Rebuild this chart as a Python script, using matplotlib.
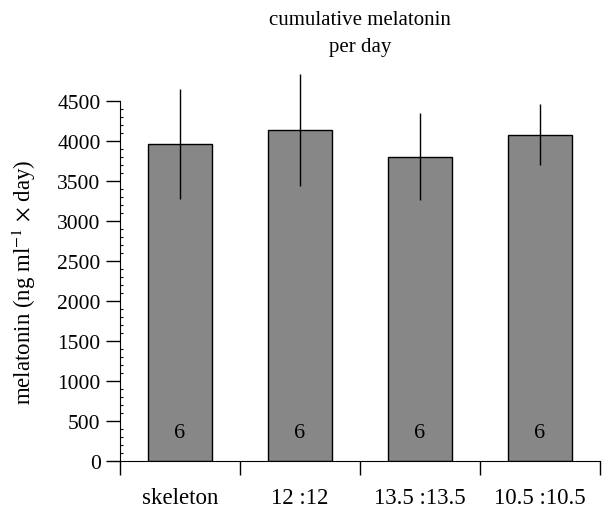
"""Cumulative melatonin per day by photoperiod group."""

import matplotlib.pyplot as plt
from matplotlib.ticker import MultipleLocator, FixedLocator, NullFormatter

plt.rcParams["font.family"] = ["Liberation Serif", "DejaVu Serif"]
plt.rcParams["mathtext.fontset"] = "stix"

GROUPS = ["skeleton", "12 :12", "13.5 :13.5", "10.5 :10.5"]
MEANS = [3966, 4133, 3804, 4079]
ERRORS = [690, 700, 545, 385]
N_LABELS = ["6", "6", "6", "6"]

figure = plt.figure(figsize=(6.1, 5.1), dpi=100)
axis = figure.add_axes([0.1967, 0.0941, 0.7869, 0.7059])

positions = list(range(len(GROUPS)))
axis.bar(
    positions,
    MEANS,
    width=0.53,
    color="#878787",
    edgecolor="black",
    linewidth=1.0,
)
axis.errorbar(
    positions,
    MEANS,
    yerr=ERRORS,
    fmt="none",
    ecolor="black",
    elinewidth=1.0,
    capsize=0,
    clip_on=False,
)
for pos, label in zip(positions, N_LABELS):
    axis.text(pos, 360, label, ha="center", va="center", fontsize=16)

axis.set_xlim(-0.5, len(GROUPS) - 0.5)
axis.set_ylim(0, 4500)
axis.spines["top"].set_visible(False)
axis.spines["right"].set_visible(False)

# x: tick marks at category boundaries, labels centred under bars
axis.xaxis.set_major_locator(FixedLocator([p - 0.5 for p in range(len(GROUPS) + 1)]))
axis.xaxis.set_major_formatter(NullFormatter())
axis.xaxis.set_minor_locator(FixedLocator(positions))
axis.set_xticklabels(GROUPS, minor=True, fontsize=16.5)
axis.tick_params(axis="x", which="major", direction="out", length=10, width=1)
axis.tick_params(axis="x", which="minor", length=0, pad=19)

axis.yaxis.set_major_locator(MultipleLocator(500))
axis.yaxis.set_minor_locator(MultipleLocator(100))
axis.tick_params(axis="y", which="major", direction="out", length=10, width=1,
                 labelsize=15.5, pad=4)
axis.tick_params(axis="y", which="minor", direction="in", length=2.5, width=0.8)

axis.set_ylabel(r"melatonin (ng ml$^{-1}$ $\times$ day)", fontsize=16.5, labelpad=14)
axis.set_title("cumulative melatonin\nper day", fontsize=15, pad=36, linespacing=1.6)

figure.savefig("out.png", dpi=100)
